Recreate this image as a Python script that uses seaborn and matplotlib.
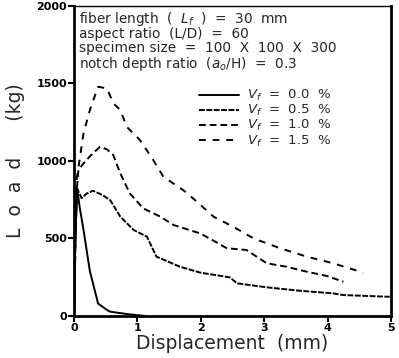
import numpy as np
import pandas as pd
import seaborn as sns
import matplotlib
matplotlib.use("Agg")
import matplotlib.pyplot as plt
from matplotlib.lines import Line2D

sns.set_theme(style="ticks")
plt.rcParams['font.family'] = ['DejaVu Sans']

# --- data (displacement mm, load kg) ---
x_00 = [0.0, 0.02, 0.05, 0.09, 0.15, 0.25, 0.38, 0.52, 0.57, 0.83, 0.99, 1.13]
y_00 = [0, 500, 823, 700, 555, 290, 80, 39, 28, 13, 6, 0]

x_05 = [0.0, 0.02, 0.05, 0.12, 0.20, 0.30, 0.45, 0.57, 0.73, 0.94, 1.15, 1.30, 1.67,
        1.99, 2.46, 2.57, 3.04, 3.56, 4.09, 4.25, 4.98]
y_05 = [0, 500, 820, 760, 790, 808, 780, 748, 641, 555, 512, 383, 318,
        280, 249, 211, 185, 163, 146, 135, 124]

x_10 = [0.0, 0.04, 0.07, 0.15, 0.25, 0.41, 0.52, 0.62, 0.73, 0.88, 1.09, 1.36, 1.57, 1.99,
        2.20, 2.41, 2.72, 3.04, 3.35, 3.67, 3.99, 4.25]
y_10 = [0, 800, 942, 985, 1030, 1092, 1075, 1038, 920, 791, 695, 641, 587, 533,
        486, 437, 426, 340, 318, 286, 258, 221]

x_15 = [0.0, 0.04, 0.15, 0.25, 0.38, 0.52, 0.62, 0.73, 0.83, 1.04, 1.25, 1.41, 1.72,
        1.94, 2.20, 2.51, 2.83, 3.25, 3.67, 4.09, 4.56]
y_15 = [0, 877, 1178, 1329, 1479, 1468, 1372, 1329, 1221, 1135, 1006, 898, 813,
        737, 641, 576, 501, 437, 383, 340, 280]

series_names = ["0.0", "0.5", "1.0", "1.5"]
x_ticks = [0, 1, 2, 3, 4, 5]
y_ticks = [0, 500, 1000, 1500, 2000]

frames = []
for name, xs, ys in zip(series_names, [x_00, x_05, x_10, x_15], [y_00, y_05, y_10, y_15]):
    frames.append(pd.DataFrame({"disp": xs, "load": ys, "Vf": name}))
df = pd.concat(frames, ignore_index=True)

dash_map = {"0.0": "", "0.5": (3.0, 0.8), "1.0": (3.5, 2.0), "1.5": (3.5, 3.5)}

fig = plt.figure(figsize=(3.99, 3.58), dpi=100)
ax = fig.add_axes([0.1855, 0.1173, 0.7945, 0.866])

sns.lineplot(data=df, x="disp", y="load", hue="Vf", style="Vf",
             palette={n: "black" for n in series_names}, dashes=dash_map,
             sort=False, estimator=None, linewidth=1.4, ax=ax, legend=False)

ax.set_xlim(0, 5)
ax.set_ylim(0, 2000)
ax.set_xticks(x_ticks)
ax.set_yticks(y_ticks)
ax.set_xticklabels([str(t) for t in x_ticks], fontsize=8, fontweight="bold")
ax.set_yticklabels([str(t) for t in y_ticks], fontsize=8, fontweight="bold")
ax.tick_params(direction="out", length=4, width=1.5, pad=1, colors="black")

for side in ["left", "bottom", "right"]:
    ax.spines[side].set_linewidth(2.0)
    ax.spines[side].set_color("black")
ax.spines["top"].set_linewidth(1.0)
ax.spines["top"].set_color("black")
ax.spines["top"].set_visible(True)
ax.spines["right"].set_visible(True)

ax.set_xlabel("Displacement  (mm)", fontsize=13.5, labelpad=1)
ax.set_ylabel("L  o  a  d      (kg)", fontsize=13.5, labelpad=8)

info = ("fiber length  (  $L_f$  )  =  30  mm\n"
        "aspect ratio  (L/D)  =  60\n"
        "specimen size  =  100  X  100  X  300\n"
        "notch depth ratio  ($a_o$/H)  =  0.3")
ax.text(0.015, 0.988, info, transform=ax.transAxes, ha="left", va="top",
        fontsize=9.8, linespacing=0.98)

handles = []
labels = []
for n in series_names:
    ls = "-" if dash_map[n] == "" else (0, dash_map[n])
    handles.append(Line2D([0], [0], color="black", lw=1.4, linestyle=ls))
    labels.append(r"$V_f$  =  " + n + "  %")
leg = ax.legend(handles, labels, loc="upper left", bbox_to_anchor=(0.395, 0.735),
                frameon=False, fontsize=9.5, handlelength=3.0, handletextpad=0.6,
                labelspacing=0.0, borderaxespad=0, borderpad=0)

fig.savefig("out.png", dpi=100)
